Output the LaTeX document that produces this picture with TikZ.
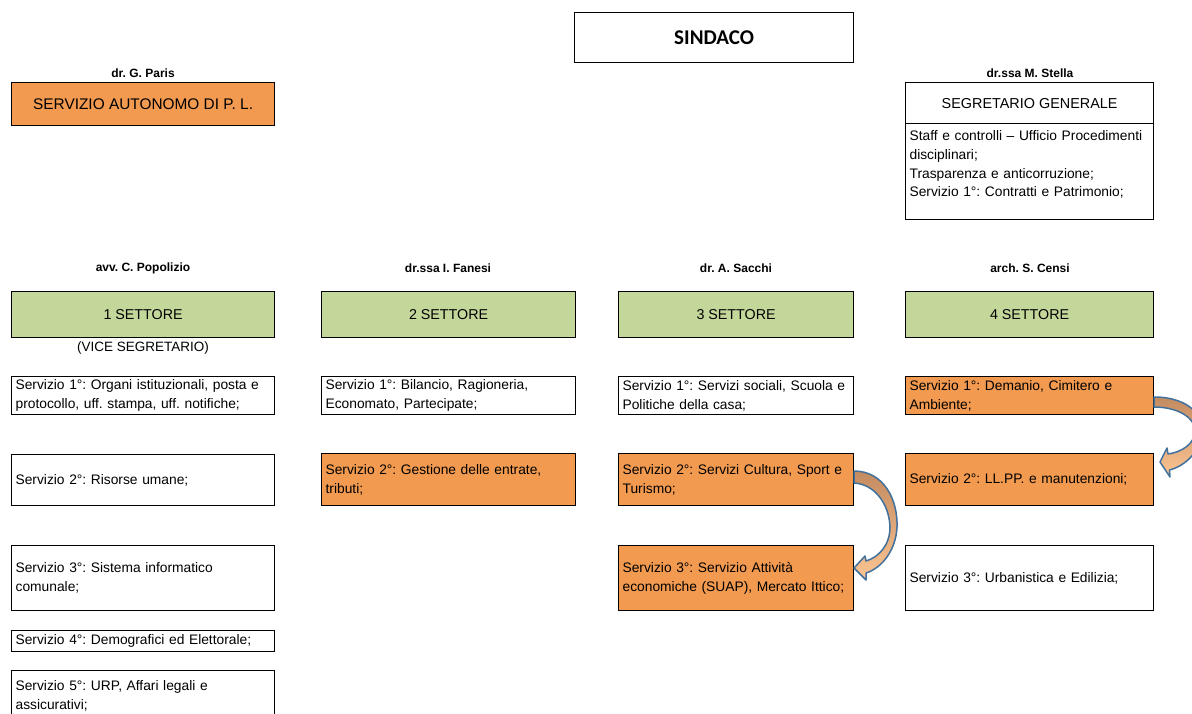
\documentclass[tikz,border=0pt]{standalone}
\usepackage{fontspec}
\setmainfont{Liberation Sans}
\newfontfamily\calibri{Carlito}
\frenchspacing
\definecolor{orng}{HTML}{F29A50}
\definecolor{grn}{HTML}{C4D79B}
\definecolor{arrowline}{HTML}{41719C}
\definecolor{arrowdark}{HTML}{C38B60}
\definecolor{arrowlight}{HTML}{FBC492}
\begin{document}
\begin{tikzpicture}[x=1pt,y=-1pt,
  box/.style={draw=black, line width=1.2pt, rectangle, anchor=north west,
    inner xsep=4pt, inner ysep=0pt, align=left,
    font=\fontsize{13.8}{18.7}\selectfont},
  cbox/.style={box, align=center},
  c1/.style={box, text width=255pt, minimum width=263pt},
  c2/.style={box, text width=246pt, minimum width=254pt},
  c3/.style={box, text width=227pt, minimum width=235pt},
  c4/.style={box, text width=240pt, minimum width=248pt},
  hot/.style={fill=orng},
  sect/.style={cbox, fill=grn, minimum height=46pt, font=\fontsize{14.3}{17}\selectfont},
  who/.style={inner sep=0pt, font=\fontsize{12}{14}\selectfont\bfseries},
  curvarrow/.style={draw=arrowline, line width=1.5pt, line join=round,
    top color=arrowdark, bottom color=arrowlight}
]
\useasboundingbox (0,0) rectangle (1192,713);

% top level
\node[cbox, minimum width=279pt, minimum height=50pt,
      font=\calibri\fontsize{21}{24}\selectfont\bfseries] (sindaco) at (574,12) {SINDACO};

\node[who] (paris) at (143,73) {dr. G. Paris};
\node[cbox, hot, minimum width=263pt, minimum height=43pt,
      font=\fontsize{15.4}{18}\selectfont] (pl) at (11,82) {SERVIZIO AUTONOMO DI P. L.};

\node[who] (stella) at (1030,73) {dr.ssa M. Stella};
\node[cbox, minimum width=248pt, minimum height=41pt,
      font=\fontsize{14.4}{17}\selectfont] (seg) at (905,82) {SEGRETARIO GENERALE};
\node[c4, minimum height=96pt] (segbody) at (905,123)
  {\mbox{Staff e controlli -- Ufficio Procedimenti}\\disciplinari;\\Trasparenza e anticorruzione;\\Servizio 1°: Contratti e Patrimonio;\\[-9pt]\strut};

% sector heads
\node[who] (h1) at (143,268) {avv. C. Popolizio};
\node[who] (h2) at (448,268) {dr.ssa I. Fanesi};
\node[who] (h3) at (736,268) {dr. A. Sacchi};
\node[who] (h4) at (1030,268) {arch. S. Censi};

\node[sect, minimum width=263pt] (s1) at (11,291) {1 SETTORE};
\node[sect, minimum width=254pt] (s2) at (321,291) {2 SETTORE};
\node[sect, minimum width=235pt] (s3) at (618,291) {3 SETTORE};
\node[sect, minimum width=248pt] (s4) at (905,291) {4 SETTORE};

\node[inner sep=0pt, font=\fontsize{13.5}{16}\selectfont] (vice) at (143,348) {(VICE SEGRETARIO)};

% column 1
\node[c1, minimum height=38pt] (a1) at (11,376) {\mbox{Servizio 1°: Organi istituzionali, posta e}\\\mbox{protocollo, uff. stampa, uff. notifiche;}};
\node[c1, minimum height=51pt] (a2) at (11,454) {Servizio 2°: Risorse umane;};
\node[c1, minimum height=65pt] (a3) at (11,545) {Servizio 3°: Sistema informatico\\comunale;};
\node[c1, minimum height=21pt] (a4) at (11,630) {\mbox{Servizio 4°: Demografici ed Elettorale;}};
\node[c1, minimum height=50pt] (a5) at (11,670) {Servizio 5°: URP, Affari legali e\\assicurativi;};

% column 2
\node[c2, minimum height=38pt] (b1) at (321,376) {Servizio 1°: Bilancio, Ragioneria,\\Economato, Partecipate;};
\node[c2, hot, minimum height=52pt] (b2) at (321,453) {\mbox{Servizio 2°: Gestione delle entrate,}\\tributi;};

% column 3
\node[c3, minimum height=38pt] (c1n) at (618,376) {\mbox{Servizio 1°: Servizi sociali, Scuola e}\\Politiche della casa;};
\node[c3, hot, minimum height=52pt] (c2n) at (618,453) {\mbox{Servizio 2°: Servizi Cultura, Sport e}\\Turismo;};
\node[c3, hot, minimum height=65pt] (c3n) at (618,545) {\mbox{Servizio 3°: Servizio Attività}\\\mbox{economiche (SUAP), Mercato Ittico;}};

% column 4
\node[c4, hot, minimum height=38pt] (d1) at (905,376) {\mbox{Servizio 1°: Demanio, Cimitero e}\\Ambiente;};
\node[c4, hot, minimum height=52pt] (d2) at (905,453) {\mbox{Servizio 2°: LL.PP. e manutenzioni;}};
\node[c4, minimum height=65pt] (d3) at (905,545) {\mbox{Servizio 3°: Urbanistica e Edilizia;}};

% curved block arrows
\path[curvarrow] (854,471) .. controls (884,471) and (898,500) .. (897,527)
  .. controls (896,550) and (882,568) .. (866,573) -- (866,580) -- (854,568)
  -- (865,556) -- (866,561) .. controls (879,557) and (890,545) .. (890,527)
  .. controls (889,503) and (874,484) .. (854,483) -- cycle;

\path[curvarrow] (1154,397) .. controls (1190,397) and (1205,418) .. (1203,432)
  .. controls (1200,452) and (1185,466) .. (1169.5,470) -- (1170,477) -- (1160,462)
  -- (1167,448) -- (1168,454) .. controls (1182,452) and (1194,444) .. (1195,432)
  .. controls (1196,418) and (1178,407) .. (1154,407) -- cycle;
\end{tikzpicture}
\end{document}
